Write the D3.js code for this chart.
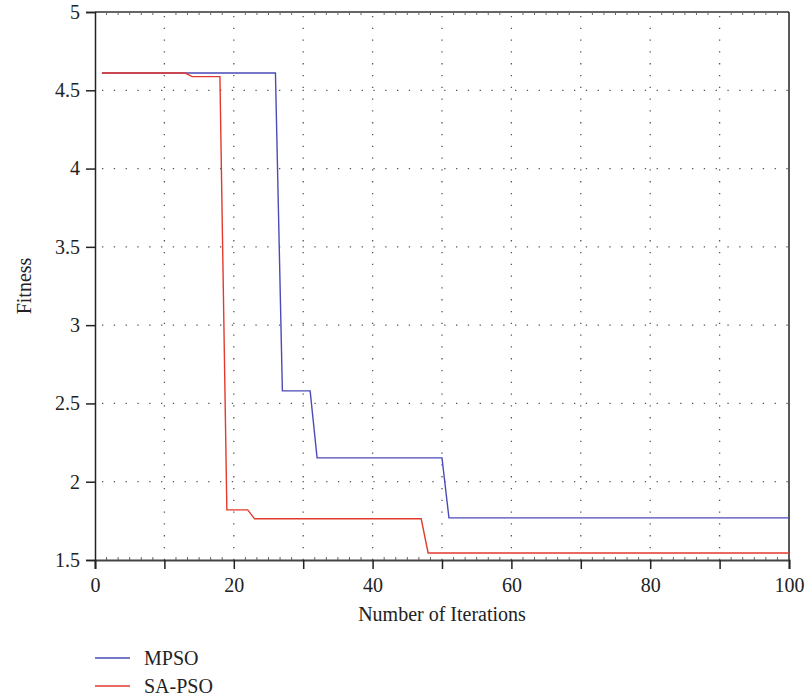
<!DOCTYPE html>
<html>
<head>
<meta charset="utf-8">
<script src="https://cdn.jsdelivr.net/npm/d3@7"></script>
<style>
  body { margin: 0; background: #fff; }
  text { font-family: "Liberation Serif", "DejaVu Serif", serif; fill: #222; }
</style>
</head>
<body>
<div id="main"></div>
<script>
// Convergence curves, breakpoints
const mpsoIter = [1, 26, 27, 31, 32, 50, 51, 100];
const mpsoFit  = [4.61, 4.61, 2.58, 2.58, 2.152, 2.152, 1.769, 1.769];
const sapsoIter = [1, 13, 14, 18, 19, 22, 23, 47, 48, 100];
const sapsoFit  = [4.61, 4.61, 4.587, 4.587, 1.82, 1.82, 1.763, 1.763, 1.545, 1.545];

const seriesNames = ["MPSO", "SA-PSO"];
const seriesColors = ["#4b4bb8", "#e23a2c"];

const xTicks = [0, 20, 40, 60, 80, 100];
const yTicks = [1.5, 2, 2.5, 3, 3.5, 4, 4.5, 5];

const ctx = { width: 808, height: 699, left: 95, right: 789, top: 12, bottom: 560, font: 20 };

const svg = d3.select("#main").append("svg")
  .attr("width", ctx.width)
  .attr("height", ctx.height);

const x = d3.scaleLinear().domain([0, 100]).range([ctx.left, ctx.right]);
const y = d3.scaleLinear().domain([1.5, 5]).range([ctx.bottom, ctx.top]);

// dotted grid
const grid = svg.append("g").attr("stroke", "#555").attr("stroke-width", 1.3)
  .attr("stroke-dasharray", "1.3,10.5");
grid.selectAll("line.v").data(d3.range(10, 100, 10)).enter().append("line")
  .attr("x1", d => x(d)).attr("x2", d => x(d))
  .attr("y1", ctx.bottom).attr("y2", ctx.top);
grid.selectAll("line.h").data(yTicks.slice(1, -1)).enter().append("line")
  .attr("y1", d => y(d)).attr("y2", d => y(d))
  .attr("x1", ctx.left + 7).attr("x2", ctx.right);

// frame: top and right
svg.append("line").attr("x1", ctx.left).attr("x2", ctx.right)
  .attr("y1", ctx.top).attr("y2", ctx.top).attr("stroke", "#333").attr("stroke-width", 1.5);
svg.append("line").attr("x1", ctx.right).attr("x2", ctx.right)
  .attr("y1", ctx.top).attr("y2", ctx.bottom).attr("stroke", "#222").attr("stroke-width", 1.5);

// minor ticks on top and bottom
const minor = d3.range(0, 100, 10 / 6).filter(d => d % 10 > 0.01 && d % 10 < 9.99);
svg.append("g").selectAll("line").data(minor).enter().append("line")
  .attr("x1", d => x(d)).attr("x2", d => x(d))
  .attr("y1", ctx.top).attr("y2", ctx.top + 3)
  .attr("stroke", "#666").attr("stroke-width", 1);
svg.append("g").selectAll("line").data(minor).enter().append("line")
  .attr("x1", d => x(d)).attr("x2", d => x(d))
  .attr("y1", ctx.bottom).attr("y2", ctx.bottom - 3)
  .attr("stroke", "#666").attr("stroke-width", 1);

// x axis
const xAxis = svg.append("g").attr("transform", `translate(0,${ctx.bottom})`)
  .call(d3.axisBottom(x).tickValues(d3.range(0, 101, 10)).tickSize(9)
    .tickFormat(d => xTicks.includes(d) ? d : ""));
xAxis.attr("font-size", null).attr("font-family", null);
xAxis.select(".domain").attr("stroke", "#444").attr("stroke-width", 2);
xAxis.selectAll(".tick line").attr("stroke", "#222").attr("stroke-width", 1.5);
xAxis.selectAll(".tick text").style("font-size", ctx.font + "px").attr("y", 18).attr("dy", "0.71em")
  .attr("fill", "#222");

// y axis
const yAxis = svg.append("g").attr("transform", `translate(${ctx.left},0)`)
  .call(d3.axisLeft(y).tickValues(yTicks).tickSize(9).tickFormat(d3.format("")));
yAxis.attr("font-size", null).attr("font-family", null);
yAxis.select(".domain").attr("stroke", "#222").attr("stroke-width", 1.5);
yAxis.selectAll(".tick line").attr("stroke", "#222").attr("stroke-width", 1.5);
yAxis.selectAll(".tick text").style("font-size", ctx.font + "px").attr("x", -15)
  .attr("fill", "#222");

// axis titles
svg.append("text").attr("x", (ctx.left + ctx.right) / 2).attr("y", 621)
  .attr("text-anchor", "middle").style("font-size", ctx.font + "px").text("Number of Iterations");
svg.append("text").attr("transform", `translate(31,${(ctx.top + ctx.bottom) / 2}) rotate(-90)`)
  .attr("text-anchor", "middle").style("font-size", ctx.font + "px").text("Fitness");

// lines
const line = d3.line().x(d => x(d[0])).y(d => y(d[1]));
const series = [
  d3.zip(mpsoIter, mpsoFit),
  d3.zip(sapsoIter, sapsoFit)
];
svg.append("g").selectAll("path").data(series).enter().append("path")
  .attr("d", line)
  .attr("fill", "none")
  .attr("stroke", (d, i) => seriesColors[i])
  .attr("stroke-width", 1.4);

// legend
const legend = svg.append("g").selectAll("g").data(seriesNames).enter().append("g")
  .attr("transform", (d, i) => `translate(95,${658 + i * 28})`);
legend.append("line").attr("x1", 0).attr("x2", 35)
  .attr("stroke", (d, i) => seriesColors[i]).attr("stroke-width", 1.4);
legend.append("text").attr("x", 49).attr("y", 7).style("font-size", ctx.font + "px").text(d => d);
</script>
</body>
</html>
